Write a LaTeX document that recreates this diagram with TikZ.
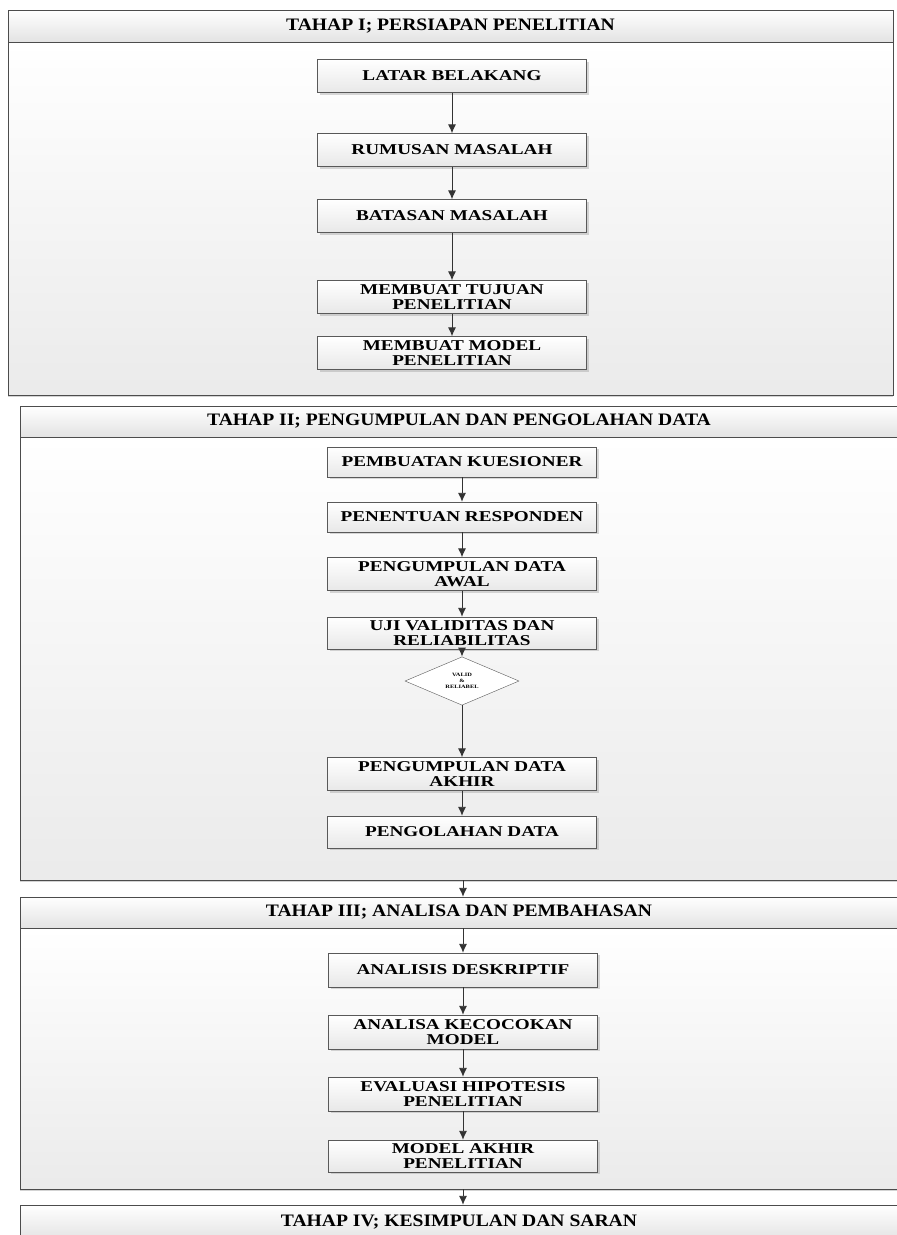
\documentclass[tikz,border=0pt]{standalone}
\usepackage{fontspec}
\setmainfont{Liberation Serif}
\newfontfamily\boxfont{Liberation Serif}[FakeStretch=1.28]
\newfontfamily\headfont{Liberation Serif}[FakeStretch=1.12]
\usepackage{tikz}
\usetikzlibrary{shapes.geometric,shadows,arrows.meta}

\begin{document}
\begin{tikzpicture}[x=1pt, y=-1pt,
    box/.style = {draw=black!65, rectangle, top color=white, bottom color=black!9,
        drop shadow={shadow xshift=2pt, shadow yshift=-2pt, opacity=0.3},
        minimum width=269pt, minimum height=33pt, inner sep=0pt, align=center,
        font=\boxfont\bfseries\fontsize{15}{14.3}\selectfont},
    check/.style = {draw=black!65, diamond, fill=white, minimum width=114pt,
        minimum height=48pt, inner sep=0pt, align=center,
        font=\boxfont\bfseries\fontsize{5}{6}\selectfont},
    head/.style = {draw=black!70, rectangle, top color=white, bottom color=black!11,
        inner sep=0pt, font=\headfont\bfseries\fontsize{17.5}{18}\selectfont},
    panel/.style = {draw=black!70, rectangle, top color=white, bottom color=black!8,
        drop shadow={shadow xshift=0pt, shadow yshift=-2pt, opacity=0.35}},
    arr/.style = {-{Latex[length=9pt,width=8pt]}, draw=black!80, line width=0.9pt}]
    \useasboundingbox (0,0) rectangle (897,1235);

    % panels
    \node[panel] (p1) at (450.5,218.5) [minimum width=885pt, minimum height=353pt] {};
    \node[head] (h1) at (450.5,26) [minimum width=885pt, minimum height=32pt] {TAHAP I; PERSIAPAN PENELITIAN};
    \node[panel] (p2) at (459,658.5) [minimum width=878pt, minimum height=443pt] {};
    \node[head] (h2) at (459,421.5) [minimum width=878pt, minimum height=31pt] {TAHAP II; PENGUMPULAN DAN PENGOLAHAN DATA};
    \node[panel] (p3) at (459,1058.5) [minimum width=878pt, minimum height=261pt] {};
    \node[head] (h3) at (459,912.5) [minimum width=878pt, minimum height=31pt] {TAHAP III; ANALISA DAN PEMBAHASAN};
    \node[head] (h4) at (459,1222.5) [minimum width=878pt, minimum height=35pt] {TAHAP IV; KESIMPULAN DAN SARAN};

    % tahap I
    \node[box] (n1) at (452,76) {LATAR BELAKANG};
    \node[box] (n2) [below of=n1, node distance=74pt] {RUMUSAN MASALAH};
    \node[box] (n3) [below of=n2, node distance=66pt] {BATASAN MASALAH};
    \node[box] (n4) [below of=n3, node distance=81pt] {MEMBUAT TUJUAN\\PENELITIAN};
    \node[box] (n5) [below of=n4, node distance=56pt] {MEMBUAT MODEL\\PENELITIAN};

    % tahap II
    \node[box] (n6) at (462,462) [minimum height=30pt] {PEMBUATAN KUESIONER};
    \node[box] (n7) [below of=n6, node distance=55pt, minimum height=30pt] {PENENTUAN RESPONDEN};
    \node[box] (n8) [below of=n7, node distance=57pt] {PENGUMPULAN DATA\\AWAL};
    \node[box] (n9) [below of=n8, node distance=59pt, minimum height=32pt] {UJI VALIDITAS DAN\\RELIABILITAS};
    \node[check] (n10) [below of=n9, node distance=48pt] {VALID\\\&\\RELIABEL};
    \node[box] (n11) [below of=n10, node distance=93pt] {PENGUMPULAN DATA\\AKHIR};
    \node[box] (n12) [below of=n11, node distance=58pt, minimum height=32pt] {PENGOLAHAN DATA};

    % tahap III
    \node[box] (n13) at (463,970) [minimum height=34pt] {ANALISIS DESKRIPTIF};
    \node[box] (n14) [below of=n13, node distance=62pt, minimum height=34pt] {ANALISA KECOCOKAN\\MODEL};
    \node[box] (n15) [below of=n14, node distance=62pt, minimum height=34pt] {EVALUASI HIPOTESIS\\PENELITIAN};
    \node[box] (n16) [below of=n15, node distance=62pt, minimum height=32pt] {MODEL AKHIR\\PENELITIAN};

    \draw[arr] (n1) -- (n2);
    \draw[arr] (n2) -- (n3);
    \draw[arr] (n3) -- (n4);
    \draw[arr] (n4) -- (n5);
    \draw[arr] (n6) -- (n7);
    \draw[arr] (n7) -- (n8);
    \draw[arr] (n8) -- (n9);
    \draw[arr] (n9) -- (n10);
    \draw[arr] (n10) -- (n11);
    \draw[arr] (n11) -- (n12);
    \draw[arr] (p2.south -| n13) -- (h3.north -| n13);
    \draw[arr] (h3.south -| n13) -- (n13);
    \draw[arr] (n13) -- (n14);
    \draw[arr] (n14) -- (n15);
    \draw[arr] (n15) -- (n16);
    \draw[arr] (p3.south -| n13) -- (h4.north -| n13);
\end{tikzpicture}
\end{document}
